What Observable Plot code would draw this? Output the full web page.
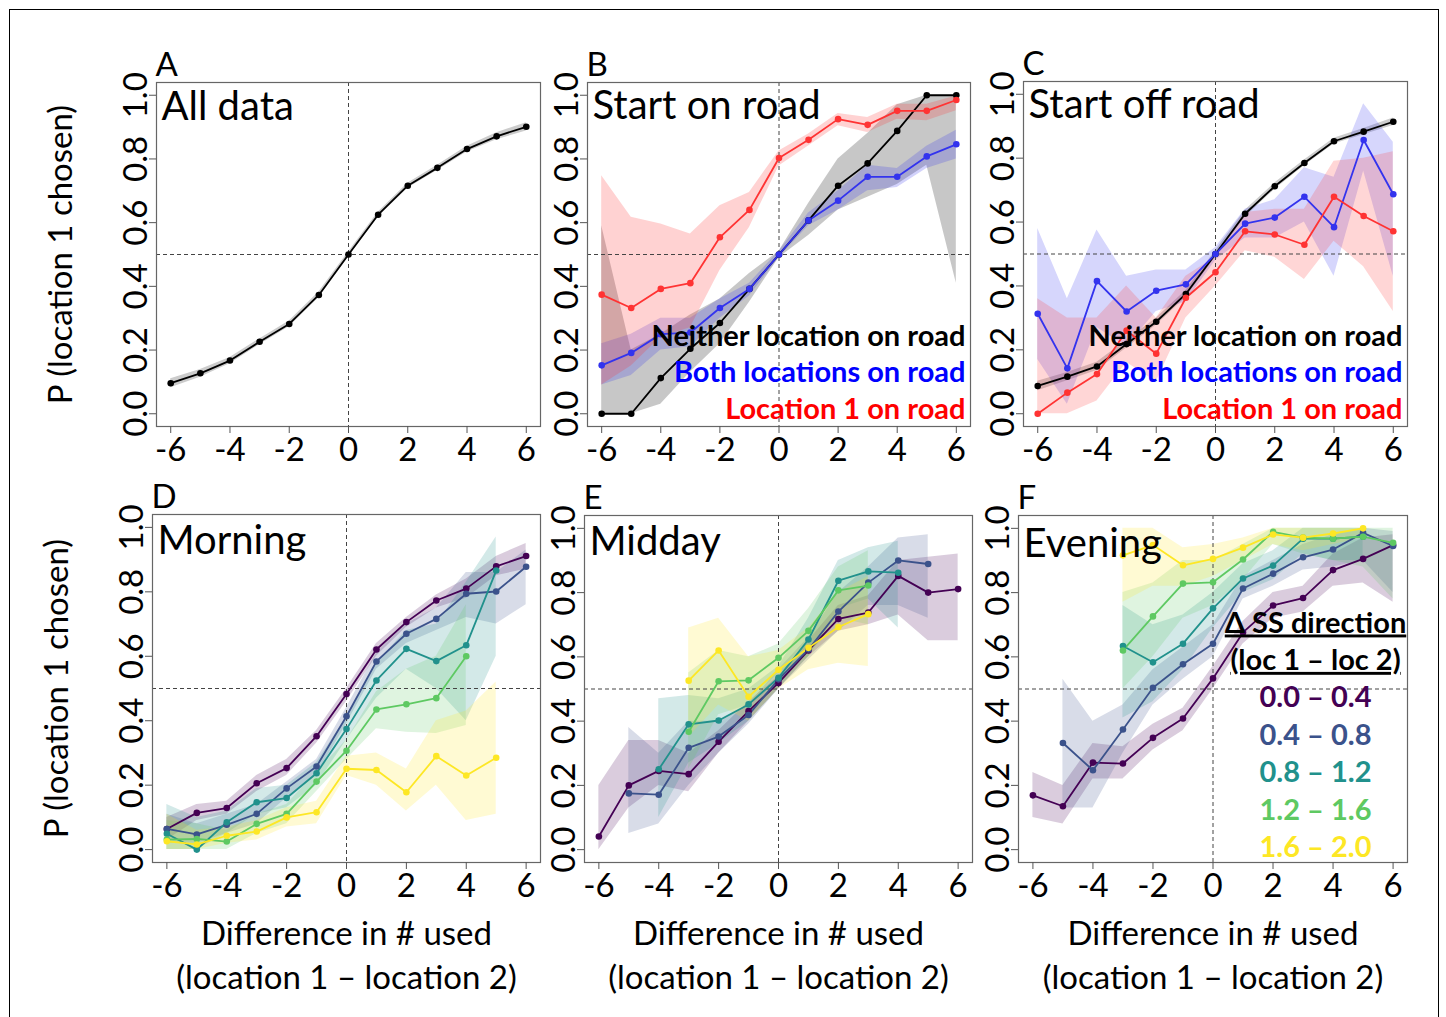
<!DOCTYPE html>
<html>
<head>
<meta charset="utf-8">
<script src="https://cdn.jsdelivr.net/npm/d3@7"></script>
<script src="https://cdn.jsdelivr.net/npm/@observablehq/plot@0.6"></script>
<style>
  body { margin: 0; background: #fff; }
  #fig { position: relative; width: 1446px; height: 1017px; overflow: hidden; background: #fff; font-family: Lato, sans-serif; }
  #border { position: absolute; left: 9px; top: 9px; width: 1428px; height: 1040px; border: 1.5px solid #000; }
  .panel { position: absolute; }
</style>
</head>
<body>
<div id="fig"><div id="border"></div></div>
<script>
// ---------- shared axes ----------
const xs = [-6, -5, -4, -3, -2, -1, 0, 1, 2, 3, 4, 5, 6];
const xTicks = [-6, -4, -2, 0, 2, 4, 6];
const yTicks = [0, 0.2, 0.4, 0.6, 0.8, 1.0];
const yTitle = "P (location 1 chosen)";
const xTitle = "Difference in # used\n(location 1 \u2013 location 2)";

// ---------- Panel A: All data ----------
const aAll   = [0.096, 0.127, 0.167, 0.226, 0.282, 0.373, 0.500, 0.625, 0.716, 0.772, 0.831, 0.871, 0.901];
const aAllLo = [0.082, 0.115, 0.157, 0.217, 0.273, 0.364, 0.492, 0.617, 0.708, 0.764, 0.822, 0.860, 0.888];
const aAllHi = [0.110, 0.139, 0.177, 0.235, 0.291, 0.382, 0.508, 0.633, 0.724, 0.780, 0.840, 0.882, 0.914];

// ---------- Panel B: Start on road ----------
const bNeither   = [0.000, 0.000, 0.112, 0.204, 0.285, 0.392, 0.500, 0.607, 0.716, 0.786, 0.888, 1.000, 1.000];
const bNeitherLo = [0.000, 0.000, 0.030, 0.130, 0.220, 0.350, 0.490, 0.560, 0.640, 0.680, 0.720, 0.780, 0.410];
const bNeitherHi = [0.590, 0.200, 0.250, 0.310, 0.360, 0.440, 0.510, 0.660, 0.800, 0.880, 0.970, 1.000, 1.000];
const bBoth      = [0.152, 0.191, 0.250, 0.255, 0.332, 0.392, 0.500, 0.607, 0.669, 0.744, 0.744, 0.808, 0.846];
const bBothLo    = [0.090, 0.120, 0.200, 0.210, 0.300, 0.370, 0.490, 0.590, 0.640, 0.700, 0.710, 0.770, 0.800];
const bBothHi    = [0.220, 0.250, 0.300, 0.300, 0.360, 0.410, 0.510, 0.630, 0.700, 0.780, 0.770, 0.840, 0.890];
const bLoc1      = [0.374, 0.332, 0.392, 0.410, 0.554, 0.640, 0.803, 0.860, 0.925, 0.907, 0.951, 0.951, 0.985];
const bLoc1Lo    = [0.090, 0.150, 0.240, 0.270, 0.450, 0.585, 0.778, 0.841, 0.904, 0.883, 0.925, 0.920, 0.951];
const bLoc1Hi    = [0.747, 0.617, 0.596, 0.564, 0.653, 0.695, 0.825, 0.878, 0.943, 0.930, 0.972, 0.972, 0.998];

// ---------- Panel C: Start off road ----------
const cNeither   = [0.087, 0.116, 0.148, 0.218, 0.288, 0.375, 0.500, 0.626, 0.712, 0.785, 0.853, 0.883, 0.914];
const cNeitherLo = [0.072, 0.103, 0.135, 0.206, 0.277, 0.364, 0.490, 0.615, 0.702, 0.776, 0.844, 0.873, 0.902];
const cNeitherHi = [0.102, 0.129, 0.161, 0.230, 0.299, 0.386, 0.510, 0.637, 0.722, 0.794, 0.862, 0.893, 0.926];
const cBoth      = [0.313, 0.142, 0.415, 0.320, 0.385, 0.405, 0.500, 0.595, 0.614, 0.679, 0.584, 0.857, 0.687];
const cBothLo    = [0.170, 0.030, 0.270, 0.210, 0.320, 0.350, 0.480, 0.550, 0.550, 0.600, 0.430, 0.760, 0.430];
const cBothHi    = [0.580, 0.360, 0.575, 0.430, 0.450, 0.450, 0.520, 0.640, 0.670, 0.770, 0.740, 0.970, 0.850];
const cLoc1      = [0.000, 0.066, 0.124, 0.260, 0.188, 0.363, 0.443, 0.571, 0.561, 0.529, 0.679, 0.619, 0.571];
const cLoc1Lo    = [0.000, 0.000, 0.040, 0.160, 0.100, 0.300, 0.400, 0.510, 0.490, 0.420, 0.540, 0.460, 0.320];
const cLoc1Hi    = [0.360, 0.300, 0.300, 0.400, 0.300, 0.430, 0.490, 0.630, 0.640, 0.640, 0.790, 0.800, 0.820];

// ---------- road legend ----------
const roadNames  = ["Neither location on road", "Both locations on road", "Location 1 on road"];
const roadLines  = ["#000000", "#3333ee", "#ff3333"];
const roadText   = ["#000000", "#0000ff", "#ff0000"];

// ---------- Δ SS direction classes ----------
const ssNames  = ["0.0 \u2013 0.4", "0.4 \u2013 0.8", "0.8 \u2013 1.2", "1.2 \u2013 1.6", "1.6 \u2013 2.0"];
const ssColors = ["#440154", "#3b528b", "#21918c", "#5ec962", "#fde725"];

// ---------- Panel D: Morning ----------
const d1   = [0.064, 0.114, 0.129, 0.206, 0.253, 0.352, 0.483, 0.621, 0.706, 0.773, 0.810, 0.879, 0.911];
const d1Lo = [0.030, 0.090, 0.110, 0.180, 0.230, 0.330, 0.460, 0.600, 0.690, 0.750, 0.780, 0.850, 0.870];
const d1Hi = [0.100, 0.140, 0.150, 0.230, 0.280, 0.370, 0.500, 0.640, 0.720, 0.790, 0.840, 0.910, 0.950];
const d2   = [0.064, 0.047, 0.077, 0.111, 0.190, 0.258, 0.414, 0.584, 0.670, 0.716, 0.794, 0.801, 0.878];
const d2Lo = [0.020, 0.020, 0.050, 0.080, 0.160, 0.230, 0.390, 0.560, 0.640, 0.680, 0.720, 0.700, 0.760];
const d2Hi = [0.110, 0.080, 0.110, 0.140, 0.210, 0.280, 0.440, 0.610, 0.700, 0.750, 0.860, 0.860, 0.930];
const d3   = [0.049, 0.000, 0.085, 0.147, 0.160, 0.237, 0.374, 0.525, 0.623, 0.585, 0.634, 0.866, null];
const d3Lo = [0.000, 0.000, 0.050, 0.110, 0.130, 0.200, 0.340, 0.470, 0.560, 0.500, 0.400, 0.600, null];
const d3Hi = [0.140, 0.100, 0.120, 0.190, 0.200, 0.270, 0.410, 0.580, 0.680, 0.700, 0.830, 0.970, null];
const d4   = [0.031, 0.033, 0.025, 0.080, 0.111, 0.211, 0.307, 0.435, 0.451, 0.470, 0.600, null, null];
const d4Lo = [0.000, 0.000, 0.000, 0.050, 0.080, 0.180, 0.280, 0.375, 0.364, 0.360, 0.385, null, null];
const d4Hi = [0.090, 0.080, 0.060, 0.110, 0.140, 0.240, 0.340, 0.490, 0.560, 0.600, 0.760, null, null];
const d5   = [0.026, 0.016, 0.043, 0.056, 0.100, 0.116, 0.251, 0.247, 0.178, 0.290, 0.230, 0.285, null];
const d5Lo = [0.000, 0.000, 0.020, 0.030, 0.070, 0.080, 0.230, 0.200, 0.120, 0.200, 0.090, 0.110, null];
const d5Hi = [0.110, 0.060, 0.070, 0.090, 0.130, 0.150, 0.290, 0.300, 0.250, 0.400, 0.430, 0.520, null];

// ---------- Panel E: Midday ----------
const e1   = [0.041, 0.200, 0.245, 0.235, 0.336, 0.431, 0.519, 0.620, 0.718, 0.738, 0.852, 0.800, 0.811];
const e1Lo = [0.000, 0.130, 0.200, 0.180, 0.300, 0.400, 0.500, 0.600, 0.680, 0.700, 0.730, 0.650, 0.650];
const e1Hi = [0.200, 0.340, 0.340, 0.300, 0.370, 0.460, 0.540, 0.650, 0.760, 0.790, 0.900, 0.910, 0.920];
const e2   = [null, 0.175, 0.171, 0.317, 0.352, 0.419, 0.530, 0.623, 0.741, 0.831, 0.900, 0.889, null];
const e2Lo = [null, 0.050, 0.080, 0.200, 0.300, 0.390, 0.500, 0.590, 0.680, 0.760, 0.760, 0.720, null];
const e2Hi = [null, 0.380, 0.300, 0.400, 0.400, 0.450, 0.560, 0.660, 0.800, 0.880, 0.970, 0.980, null];
const e3   = [null, null, 0.250, 0.390, 0.402, 0.452, 0.535, 0.654, 0.837, 0.866, 0.862, null, null];
const e3Lo = [null, null, 0.100, 0.270, 0.330, 0.400, 0.500, 0.600, 0.750, 0.780, 0.690, null, null];
const e3Hi = [null, null, 0.470, 0.480, 0.470, 0.500, 0.570, 0.720, 0.900, 0.940, 0.960, null, null];
const e4   = [null, null, null, 0.367, 0.524, 0.527, 0.597, 0.681, 0.807, 0.822, null, null, null];
const e4Lo = [null, null, null, 0.250, 0.420, 0.450, 0.550, 0.600, 0.720, 0.700, null, null, null];
const e4Hi = [null, null, null, 0.550, 0.620, 0.600, 0.640, 0.750, 0.880, 0.930, null, null, null];
const e5   = [null, null, null, 0.526, 0.620, 0.476, 0.560, 0.628, 0.693, 0.733, null, null, null];
const e5Lo = [null, null, null, 0.350, 0.450, 0.400, 0.500, 0.560, 0.580, 0.570, null, null, null];
const e5Hi = [null, null, null, 0.690, 0.720, 0.600, 0.620, 0.690, 0.800, 0.850, null, null, null];

// ---------- Panel F: Evening ----------
const f1   = [0.169, 0.135, 0.271, 0.268, 0.348, 0.408, 0.533, 0.676, 0.760, 0.783, 0.870, 0.905, 0.948];
const f1Lo = [0.100, 0.080, 0.220, 0.220, 0.310, 0.370, 0.500, 0.640, 0.720, 0.740, 0.820, 0.830, 0.770];
const f1Hi = [0.240, 0.200, 0.330, 0.320, 0.390, 0.440, 0.570, 0.710, 0.800, 0.820, 0.920, 0.970, 0.980];
const f2   = [null, 0.332, 0.247, 0.374, 0.504, 0.577, 0.641, 0.813, 0.859, 0.910, 0.934, 0.986, 0.945];
const f2Lo = [null, 0.130, 0.130, 0.300, 0.450, 0.530, 0.600, 0.780, 0.820, 0.870, 0.880, 0.900, 0.800];
const f2Hi = [null, 0.530, 0.400, 0.450, 0.560, 0.630, 0.700, 0.850, 0.900, 0.950, 0.980, 1.000, 0.990];
const f3   = [null, null, null, 0.634, 0.583, 0.641, 0.751, 0.844, 0.884, 0.968, 0.968, 0.974, null];
const f3Lo = [null, null, null, 0.410, 0.460, 0.560, 0.690, 0.800, 0.840, 0.920, 0.900, 0.900, null];
const f3Hi = [null, null, null, 0.760, 0.700, 0.730, 0.800, 0.890, 0.930, 1.000, 1.000, 1.000, null];
const f4   = [null, null, null, 0.620, 0.726, 0.828, 0.832, 0.903, 0.989, 0.971, 0.968, 0.974, 0.955];
const f4Lo = [null, null, null, 0.500, 0.600, 0.720, 0.760, 0.840, 0.950, 0.920, 0.900, 0.880, 0.780];
const f4Hi = [null, null, null, 0.800, 0.830, 0.900, 0.900, 0.950, 1.000, 1.000, 1.000, 1.000, 1.000];
const f5   = [null, null, null, 0.916, 0.948, 0.885, 0.905, 0.940, 0.981, 0.971, 0.984, 1.000, null];
const f5Lo = [null, null, null, 0.770, 0.820, 0.820, 0.850, 0.900, 0.950, 0.930, 0.950, 0.970, null];
const f5Hi = [null, null, null, 1.000, 1.000, 0.940, 0.950, 0.970, 1.000, 1.000, 1.000, 1.000, null];

// ---------- helpers ----------
const FONT = "Lato, sans-serif";
function rowsOf(series) {
  const rows = [];
  series.forEach(s => xs.forEach((x, i) => {
    if (s.y[i] != null) rows.push({x, y: s.y[i], lo: s.lo[i], hi: s.hi[i], key: s.name});
  }));
  return rows;
}

function panel(opt) {
  const [L, T, W, H] = opt.frame;
  const mL = 120, mT = 50, mR = 14, mB = opt.bottom ? 140 : 55;
  const rows = rowsOf(opt.series);
  const marks = [
    Plot.areaY(rows, {x: "x", y1: "lo", y2: "hi", fill: "key", fillOpacity: opt.bandOpacity ?? 0.2}),
    Plot.ruleX([0], {stroke: "#444", strokeDasharray: "4,3", strokeWidth: 1}),
    Plot.ruleY([0.5], {stroke: "#444", strokeDasharray: "4,3", strokeWidth: 1}),
    Plot.line(rows, {x: "x", y: "y", stroke: "key", strokeWidth: 1.8}),
    Plot.dot(rows, {x: "x", y: "y", fill: "key", r: 3.3}),
    Plot.frame({stroke: "#666", strokeWidth: 1.2}),
    Plot.axisX({ticks: xTicks, tickSize: 7, tickPadding: 4, fontSize: 33, stroke: "#555", fill: "#000",
                tickFormat: d => String(d), label: null}),
    Plot.axisY({ticks: yTicks, tickSize: 7, tickPadding: 3, tickRotate: -90, fontSize: 33, stroke: "#555", fill: "#000",
                tickFormat: d => d.toFixed(1),
                label: opt.yLabel ? yTitle : null, labelAnchor: "center", labelArrow: "none", labelOffset: 108}),
    Plot.text([opt.letter], {text: d => d, frameAnchor: "top-left", textAnchor: "start", lineAnchor: "bottom",
                             dx: -1, dy: -7, fontSize: 33, fill: "#000"}),
    Plot.text([opt.title], {text: d => d, frameAnchor: "top-left", textAnchor: "start", lineAnchor: "top",
                            dx: 5, dy: opt.titleDy, fontSize: 40, fill: "#000"})
  ];
  if (opt.bottom) {
    marks.push(Plot.text([xTitle], {text: d => d, frameAnchor: "bottom", textAnchor: "middle", lineAnchor: "top",
                                    dy: 51, fontSize: 33, lineHeight: 1.33, fill: "#000"}));
  }
  if (opt.roadLegend) {
    roadNames.forEach((name, i) => marks.push(
      Plot.text([name], {text: d => d, frameAnchor: "bottom-right", textAnchor: "end", lineAnchor: "bottom",
                         dx: -5, dy: -8 - (roadNames.length - 1 - i) * 36.5, fontSize: 29, fontWeight: "bold",
                         fill: roadText[i]})));
  }
  if (opt.ssLegend) {
    const heads = ["\u0394 SS direction", "(loc 1 \u2013 loc 2)"];
    const items = heads.map(t => ({t, c: "#000"})).concat(ssNames.map((t, i) => ({t, c: ssColors[i]})));
    items.forEach((it, i) => marks.push(
      Plot.text([it.t], {text: d => d, frameAnchor: "top-right", textAnchor: "middle", lineAnchor: "bottom",
                         dx: -92, dy: 117 + i * 37.4, fontSize: 29, fontWeight: "bold", fill: it.c})));
  }
  const chart = Plot.plot({
    width: mL + W + mR, height: mT + H + mB,
    marginLeft: mL, marginTop: mT, marginRight: mR, marginBottom: mB,
    style: {fontFamily: FONT, background: "transparent", overflow: "visible"},
    x: {domain: [-6.48, 6.48]},
    y: {domain: [-0.04, 1.04]},
    color: {domain: opt.series.map(s => s.name), range: opt.series.map(s => s.color)},
    marks
  });
  if (opt.ssLegend) {
    chart.querySelectorAll("text").forEach(el => {
      const t = el.textContent;
      if (t.startsWith("\u0394") || t.startsWith("(loc")) el.setAttribute("text-decoration", "underline");
    });
  }
  chart.classList.add("panel");
  chart.style.left = (L - mL) + "px";
  chart.style.top = (T - mT) + "px";
  document.getElementById("fig").appendChild(chart);
}

function road(y, lo, hi, i) { return {name: roadNames[i], y, lo, hi, color: roadLines[i]}; }
function ss(y, lo, hi, i) { return {name: ssNames[i], y, lo, hi, color: ssColors[i]}; }

panel({letter: "A", title: "All data", frame: [156, 82, 384, 344], yLabel: true, titleDy: 9, bandOpacity: 0.2,
       series: [{name: "All data", y: aAll, lo: aAllLo, hi: aAllHi, color: "#000000"}]});
panel({letter: "B", title: "Start on road", frame: [587, 82, 383, 344], titleDy: 8, roadLegend: true, bandOpacity: 0.22,
       series: [road(bNeither, bNeitherLo, bNeitherHi, 0), road(bBoth, bBothLo, bBothHi, 1), road(bLoc1, bLoc1Lo, bLoc1Hi, 2)]});
panel({letter: "C", title: "Start off road", frame: [1023, 81, 384, 345], titleDy: 8, roadLegend: true, bandOpacity: 0.2,
       series: [road(cNeither, cNeitherLo, cNeitherHi, 0), road(cBoth, cBothLo, cBothHi, 1), road(cLoc1, cLoc1Lo, cLoc1Hi, 2)]});
panel({letter: "D", title: "Morning", frame: [152, 514, 388, 348], yLabel: true, bottom: true, titleDy: 11,
       series: [ss(d1, d1Lo, d1Hi, 0), ss(d2, d2Lo, d2Hi, 1), ss(d3, d3Lo, d3Hi, 2), ss(d4, d4Lo, d4Hi, 3), ss(d5, d5Lo, d5Hi, 4)]});
panel({letter: "E", title: "Midday", frame: [584, 515, 388, 347], bottom: true, titleDy: 11,
       series: [ss(e1, e1Lo, e1Hi, 0), ss(e2, e2Lo, e2Hi, 1), ss(e3, e3Lo, e3Hi, 2), ss(e4, e4Lo, e4Hi, 3), ss(e5, e5Lo, e5Hi, 4)]});
panel({letter: "F", title: "Evening", frame: [1018, 515, 389, 347], bottom: true, titleDy: 13, ssLegend: true,
       series: [ss(f1, f1Lo, f1Hi, 0), ss(f2, f2Lo, f2Hi, 1), ss(f3, f3Lo, f3Hi, 2), ss(f4, f4Lo, f4Hi, 3), ss(f5, f5Lo, f5Hi, 4)]});
</script>
</body>
</html>
